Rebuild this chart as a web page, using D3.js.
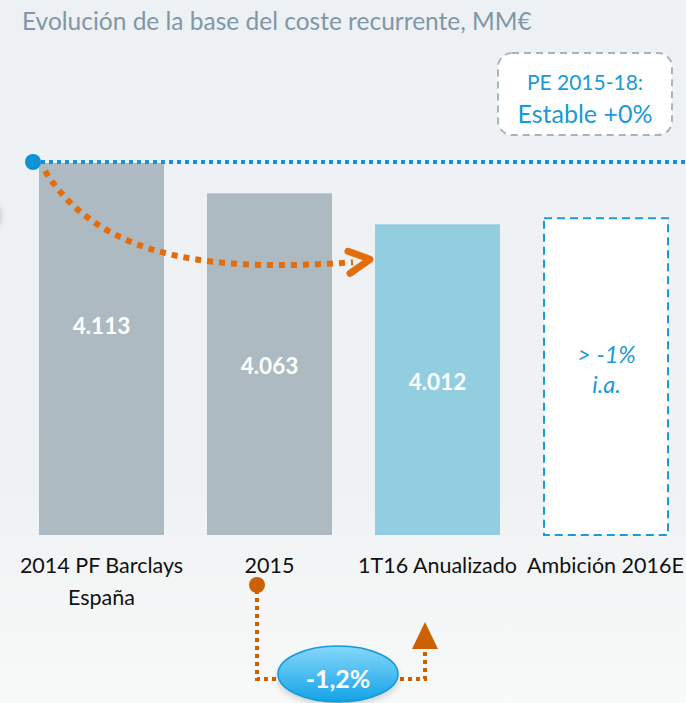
<!DOCTYPE html>
<html>
<head>
<meta charset="utf-8">
<script src="https://cdn.jsdelivr.net/npm/d3@7"></script>
<style>
  body { margin: 0; background: #eef2f3; }
  svg { display: block; font-family: Lato, "Open Sans", sans-serif; }
</style>
</head>
<body>
<svg width="686" height="703"></svg>
<script>
var categories = ["2014 PF Barclays\nEspaña", "2015", "1T16 Anualizado", "Ambición 2016E"]
var values = [4113, 4063, 4012]
var valueLabels = ["4.113", "4.063", "4.012"]
var ambitionTop = 4022
var ambitionText = ["> -1%", "i.a."]
var changeLabel = "-1,2%"
var planLines = ["PE 2015-18:", "Estable +0%"]

var svg = d3.select("svg")
var defs = svg.append("defs")

var bg = defs.append("linearGradient").attr("id", "bg").attr("x1", 0).attr("y1", 0).attr("x2", 0).attr("y2", 1)
bg.append("stop").attr("offset", "0%").attr("stop-color", "#edf1f3")
bg.append("stop").attr("offset", "70%").attr("stop-color", "#eff2f3")
bg.append("stop").attr("offset", "100%").attr("stop-color", "#f8f9f9")

var pill = defs.append("linearGradient").attr("id", "pill").attr("x1", 0).attr("y1", 0).attr("x2", 0).attr("y2", 1)
pill.append("stop").attr("offset", "0%").attr("stop-color", "#86d8fb")
pill.append("stop").attr("offset", "100%").attr("stop-color", "#12a2e6")

var blur = defs.append("filter").attr("id", "blur").attr("x", "-50%").attr("y", "-50%").attr("width", "200%").attr("height", "200%")
blur.append("feGaussianBlur").attr("stdDeviation", 3)

svg.append("rect").attr("width", 686).attr("height", 703).attr("fill", "url(#bg)")

var x = d3.scaleBand().domain(categories).range([17.5, 689.5]).paddingInner(43 / 168).paddingOuter(43 / 336)
var y = d3.scaleLinear().domain([3500, 4113]).range([535, 163])

// title
svg.append("text").attr("x", 22).attr("y", 30).attr("fill", "#7f97a8").attr("font-size", 24.5)
  .text("Evolución de la base del coste recurrente, MM€")

// faint shadow at left edge
svg.append("circle").attr("cx", -20).attr("cy", 216).attr("r", 20).attr("fill", "#8a8f92")
  .attr("opacity", 0.6).attr("filter", "url(#blur)")

// bars
var barColors = ["#adbac1", "#adbac1", "#93cde0"]
svg.selectAll("rect.bar").data(values).enter().append("rect")
  .attr("class", "bar")
  .attr("x", function (d, i) { return x(categories[i]) })
  .attr("y", function (d) { return y(d) })
  .attr("width", x.bandwidth())
  .attr("height", function (d) { return y.range()[0] - y(d) })
  .attr("fill", function (d, i) { return barColors[i] })

svg.selectAll("text.val").data(values).enter().append("text")
  .attr("class", "val")
  .attr("x", function (d, i) { return x(categories[i]) + x.bandwidth() / 2 })
  .attr("y", function (d, i) { return (y(d) + y.range()[0]) / 2 + (i == 0 ? -23 : 2) })
  .attr("dy", "0.35em")
  .attr("text-anchor", "middle").attr("fill", "#fff").attr("font-weight", "bold").attr("font-size", 22.5)
  .text(function (d, i) { return valueLabels[i] })

// ambition bar
var ax = x(categories[3])
svg.append("rect").attr("x", ax + 1).attr("y", y(ambitionTop)).attr("width", x.bandwidth() - 1)
  .attr("height", y.range()[0] - y(ambitionTop))
  .attr("fill", "#fff").attr("stroke", "#1a9ad6").attr("stroke-width", 2).attr("stroke-dasharray", "8,5")
svg.selectAll("text.amb").data(ambitionText).enter().append("text")
  .attr("class", "amb")
  .attr("x", ax + x.bandwidth() / 2 + 1)
  .attr("y", function (d, i) { return 363 + i * 30 })
  .attr("text-anchor", "middle").attr("fill", "#1a9ad6").attr("font-style", "italic").attr("font-size", 23.5)
  .text(function (d) { return d })

// category labels
categories.forEach(function (c) {
  var t = svg.append("text").attr("x", x(c) + x.bandwidth() / 2).attr("y", 573)
    .attr("text-anchor", "middle").attr("fill", "#111").attr("font-size", 21.5)
  c.split("\n").forEach(function (line, i) {
    t.append("tspan").attr("x", x(c) + x.bandwidth() / 2).attr("dy", i ? 32 : 0).text(line)
  })
})

// blue dotted reference line
var refY = y(values[0]) - 1
svg.append("line").attr("x1", 33).attr("x2", 686).attr("y1", refY).attr("y2", refY)
  .attr("stroke", "#1593d3").attr("stroke-width", 4).attr("stroke-dasharray", "4,4")
svg.append("circle").attr("cx", 33).attr("cy", refY).attr("r", 8).attr("fill", "#0a93d5")

// plan box
svg.append("rect").attr("x", 498).attr("y", 53).attr("width", 174).attr("height", 82).attr("rx", 14)
  .attr("fill", "#fff").attr("stroke", "#a9b4bb").attr("stroke-width", 2).attr("stroke-dasharray", "7,5")
svg.append("text").attr("x", 585).attr("y", 90).attr("text-anchor", "middle").attr("fill", "#1a9ad6")
  .attr("font-size", 21).text(planLines[0])
svg.append("text").attr("x", 585).attr("y", 123).attr("text-anchor", "middle").attr("fill", "#1a9ad6")
  .attr("font-size", 25).text(planLines[1])

// orange curved arrow
var orange = "#e46c0a"
var x0 = x(categories[0]) + 6, y0 = refY + 9
var x1 = x(categories[2]) - 22, y1 = y(values[2]) + 38
svg.append("path")
  .attr("d", "M" + x0 + "," + y0 + " C" + (x0 + 60) + "," + (y1 + 5) + " " + (x1 - 120) + "," + (y1 + 8) + " " + x1 + "," + y1)
  .attr("fill", "none").attr("stroke", orange).attr("stroke-width", 6).attr("stroke-dasharray", "6,6")
svg.append("path")
  .attr("d", "M" + (x1 - 5) + "," + (y1 - 11) + " L" + (x1 + 17) + "," + (y1 - 3) + " L" + (x1 - 3) + "," + (y1 + 11))
  .attr("fill", "none").attr("stroke", orange).attr("stroke-width", 7).attr("stroke-linecap", "round").attr("stroke-linejoin", "round")

// bottom change connector
var bo = "#cc6104"
var bx1 = x(categories[1]) + 50, bx2 = x(categories[2]) + 50, by = 679
svg.append("path").attr("d", "M" + bx1 + ",590 L" + bx1 + "," + by + " L" + bx2 + "," + by + " L" + bx2 + ",648")
  .attr("fill", "none").attr("stroke", bo).attr("stroke-width", 4).attr("stroke-dasharray", "4,4")
svg.append("circle").attr("cx", bx1).attr("cy", 585).attr("r", 8).attr("fill", bo)
svg.append("path").attr("d", "M" + bx2 + ",622 L" + (bx2 + 13) + ",649 L" + (bx2 - 13) + ",649 Z").attr("fill", bo)
svg.append("ellipse").attr("cx", 338).attr("cy", 678).attr("rx", 61).attr("ry", 28).attr("fill", "#000").attr("opacity", 0.15).attr("filter", "url(#blur)")
svg.append("ellipse").attr("cx", 338).attr("cy", 674).attr("rx", 60).attr("ry", 28)
  .attr("fill", "url(#pill)").attr("stroke", "#139ad9").attr("stroke-width", 1.5)
svg.append("text").attr("x", 338).attr("y", 679).attr("dy", "0.35em").attr("text-anchor", "middle")
  .attr("fill", "#fff").attr("font-weight", "bold").attr("font-size", 25).text(changeLabel)
</script>
</body>
</html>
